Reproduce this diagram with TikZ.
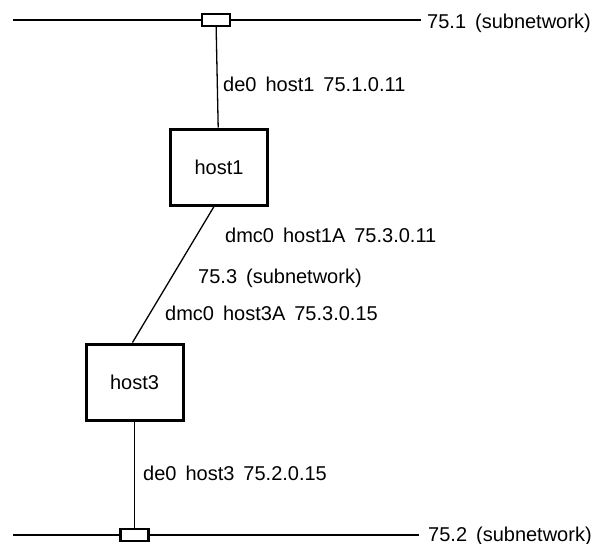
\documentclass[tikz,border=0pt]{standalone}
\usepackage{fontspec}
\setmainfont{Liberation Sans}
\usetikzlibrary{calc}
\newcommand{\gap}{\hspace{0.45em}}
\begin{document}
\begin{tikzpicture}[x=1pt,y=-1pt,
  wire/.style={line width=1.3pt},
  hostbox/.style={draw,line width=3pt,minimum width=97pt,minimum height=76pt,inner sep=0pt,font=\fontsize{20}{22}\selectfont},
  tap/.style={draw,line width=2.4pt,fill=white,minimum width=28pt,minimum height=12pt,inner sep=0pt},
  lbl/.style={anchor=base west,inner sep=0pt,font=\fontsize{20}{22}\selectfont}]
\useasboundingbox (0,0) rectangle (595,544);

% ethernet 75.1 at the top
\coordinate (n1w) at (13,20);
\coordinate (n1e) at (421,20);
\draw[wire] (n1w) -- (n1e);
\node[tap] (t1) at (216,20) {};
\node[lbl] (n1lbl) at (427,28.5) {75.1\gap(subnetwork)};

% ethernet 75.2 at the bottom
\coordinate (n2w) at (13,535);
\coordinate (n2e) at (419,535);
\draw[wire] (n2w) -- (n2e);
\node[tap] (t2) at (134.5,535) {};
\node[lbl] (n2lbl) at (428,541) {75.2\gap(subnetwork)};

% hosts
\node[hostbox] (h1) at (219,167) {host1};
\node[hostbox] (h3) at (134.5,382) {host3};

% links
\draw[wire] (t1) -- (h1);
\draw[wire] (h3) -- (t2);
\draw[wire] ($(h1.south)+(-5,0)$) -- ($(h3.north)+(-2,0)$);

% interface labels
\node[lbl] (l1) at (223,91) {de0\gap host1\gap 75.1.0.11};
\node[lbl] (l2) at (225,242.5) {dmc0\gap host1A\gap 75.3.0.11};
\node[lbl] (l3) at (198,283.5) {75.3\gap(subnetwork)};
\node[lbl] (l4) at (165,320.5) {dmc0\gap host3A\gap 75.3.0.15};
\node[lbl] (l5) at (143,480.5) {de0\gap host3\gap 75.2.0.15};
\end{tikzpicture}
\end{document}
